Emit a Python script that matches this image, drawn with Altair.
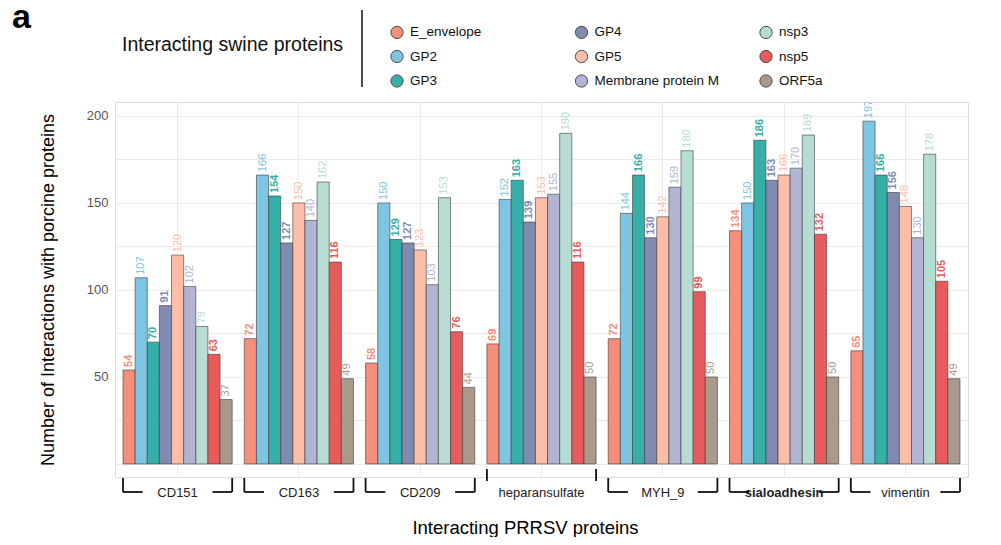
import altair as alt
import pandas as pd

groups = ["CD151", "CD163", "CD209", "heparansulfate", "MYH_9", "sialoadhesin", "vimentin"]
proteins = ["E_envelope", "GP2", "GP3", "GP4", "GP5", "Membrane protein M", "nsp3", "nsp5", "ORF5a"]
colors = ["#F68E7B", "#7EC5E4", "#35AFA7", "#7F8BB0", "#FDBEA8", "#B1B4D2", "#B6DCD4", "#E95B5A", "#AB9A8B"]

values = {
    "CD151":          [54, 107, 70, 91, 120, 102, 79, 63, 37],
    "CD163":          [72, 166, 154, 127, 150, 140, 162, 116, 49],
    "CD209":          [58, 150, 129, 127, 123, 103, 153, 76, 44],
    "heparansulfate": [69, 152, 163, 139, 153, 155, 190, 116, 50],
    "MYH_9":          [72, 144, 166, 130, 142, 159, 180, 99, 50],
    "sialoadhesin":   [134, 150, 186, 163, 166, 170, 189, 132, 50],
    "vimentin":       [65, 197, 166, 156, 148, 130, 178, 105, 49],
}
bold_proteins = ["E_envelope", "GP3", "GP4", "nsp5"]

rows = []
for g in groups:
    for p, v in zip(proteins, values[g]):
        rows.append({"group": g, "protein": p, "value": v})
df = pd.DataFrame(rows)
gdf = pd.DataFrame({"group": groups})

FONT = "Liberation Sans"
H = 375

x_axis = alt.Axis(
    title="Interacting PRRSV proteins", titleFontSize=18.5, titleFontWeight="normal",
    titleColor="#000000", titleX=410, titleY=56, titleAlign="center",
    titleBaseline="alphabetic", labelFontSize=13, labelColor="#222222",
    labelPadding=9, ticks=False, domain=False, grid=True, gridColor="#EBEBEB",
    labelAngle=0,
    labelFontWeight={"condition": {"test": "datum.value == 'sialoadhesin'", "value": "bold"}, "value": "normal"},
)
x_scale = alt.Scale(paddingInner=0.1, paddingOuter=0.066)


def xenc(bp=None):
    if bp is None:
        return alt.X("group:N", sort=groups, scale=x_scale, axis=x_axis)
    return alt.X("group:N", sort=groups, scale=x_scale, axis=x_axis, bandPosition=bp)


y_enc = alt.Y(
    "value:Q",
    scale=alt.Scale(domain=[-7.5, 208], nice=False, zero=False),
    axis=alt.Axis(
        title="Number of Interactions with porcine proteins", titleFontSize=18,
        titleFontWeight="normal", titleColor="#000000", titlePadding=29,
        values=list(range(0, 201, 25)),
        labelExpr="datum.value >= 50 && datum.value % 50 == 0 ? datum.label : ''",
        labelFontSize=13, labelColor="#555555", labelPadding=7,
        ticks=False, domain=False, grid=True, gridColor="#EBEBEB",
    ),
)
xoff = alt.XOffset("protein:N", sort=proteins, scale=alt.Scale(paddingInner=0, paddingOuter=0))
color_scale = alt.Scale(domain=proteins, range=colors)
color_enc = alt.Color(
    "protein:N",
    scale=color_scale,
    legend=alt.Legend(
        title=None, orient="none", legendX=275, legendY=-77, columns=3,
        symbolType="circle", symbolSize=150, symbolStrokeColor="#4a4a4a",
        symbolStrokeWidth=1, symbolOpacity=1, labelFontSize=13.5, labelFont=FONT,
        labelColor="#111111", labelOffset=6, gridAlign="all", columnPadding=37.5,
        rowPadding=6.5,
    ),
)

bars = alt.Chart(df).mark_bar(stroke="#3a3a3a", strokeWidth=0.8, strokeOpacity=0.75).encode(
    x=xenc(), xOffset=xoff, y=y_enc, y2=alt.datum(0), color=color_enc,
)

text_base = alt.Chart(df).encode(
    x=xenc(), xOffset=xoff, y=y_enc, text="value:Q",
    color=alt.Color("protein:N", scale=color_scale, legend=None),
)
labels_bold = text_base.transform_filter(
    alt.FieldOneOfPredicate(field="protein", oneOf=bold_proteins)
).mark_text(angle=270, align="left", baseline="middle", dx=3, fontSize=11, font=FONT,
            fontWeight="bold", clip=True)
labels_norm = text_base.transform_filter(
    ~alt.FieldOneOfPredicate(field="protein", oneOf=bold_proteins)
).mark_text(angle=270, align="left", baseline="middle", dx=3, fontSize=11, font=FONT,
            fontWeight="normal", clip=True)

rule_style = dict(color="#111111", strokeWidth=1.8)
br = alt.Chart(gdf).transform_filter("datum.group != 'heparansulfate'")
left_v = br.mark_rule(**rule_style).encode(x=xenc(0), y=alt.value(H + 1), y2=alt.value(H + 15))
right_v = br.mark_rule(**rule_style).encode(x=xenc(1), y=alt.value(H + 1), y2=alt.value(H + 15))
left_h = br.mark_rule(**rule_style).encode(
    x=xenc(0), x2=alt.X2("group:N", bandPosition=0.18), y=alt.value(H + 15))
right_h = br.mark_rule(**rule_style).encode(
    x=xenc(0.82), x2=alt.X2("group:N", bandPosition=1), y=alt.value(H + 15))
hp = alt.Chart(gdf).transform_filter("datum.group == 'heparansulfate'")
hep_l = hp.mark_rule(**rule_style).encode(x=xenc(0), y=alt.value(H - 8), y2=alt.value(H + 4))
hep_r = hp.mark_rule(**rule_style).encode(x=xenc(1), y=alt.value(H - 8), y2=alt.value(H + 4))

title_df = pd.DataFrame({"t": ["Interacting swine proteins"]})
leg_title = alt.Chart(title_df).mark_text(
    align="left", baseline="middle", fontSize=19.5, font=FONT, color="#111111"
).encode(text="t:N", x=alt.value(7), y=alt.value(-57))
sep = alt.Chart(title_df).mark_rule(color="#111111", strokeWidth=1.5).encode(
    x=alt.value(247), y=alt.value(-92), y2=alt.value(-15))
panel_df = pd.DataFrame({"t": ["a"]})
panel = alt.Chart(panel_df).mark_text(
    align="left", baseline="alphabetic", fontSize=34, font=FONT, fontWeight="bold", color="#000000"
).encode(text="t:N", x=alt.value(-103), y=alt.value(-74))

chart = alt.layer(
    bars, labels_bold, labels_norm, left_v, right_v, left_h, right_h, hep_l, hep_r,
    leg_title, sep, panel,
).properties(
    width=853, height=H,
    autosize=alt.AutoSizeParams(type="none"),
    padding={"left": 107, "top": 94, "right": 25, "bottom": 60},
).configure_view(stroke=None).configure(font=FONT)

chart.save("out.html", embed_options={"renderer": "svg", "actions": False})
